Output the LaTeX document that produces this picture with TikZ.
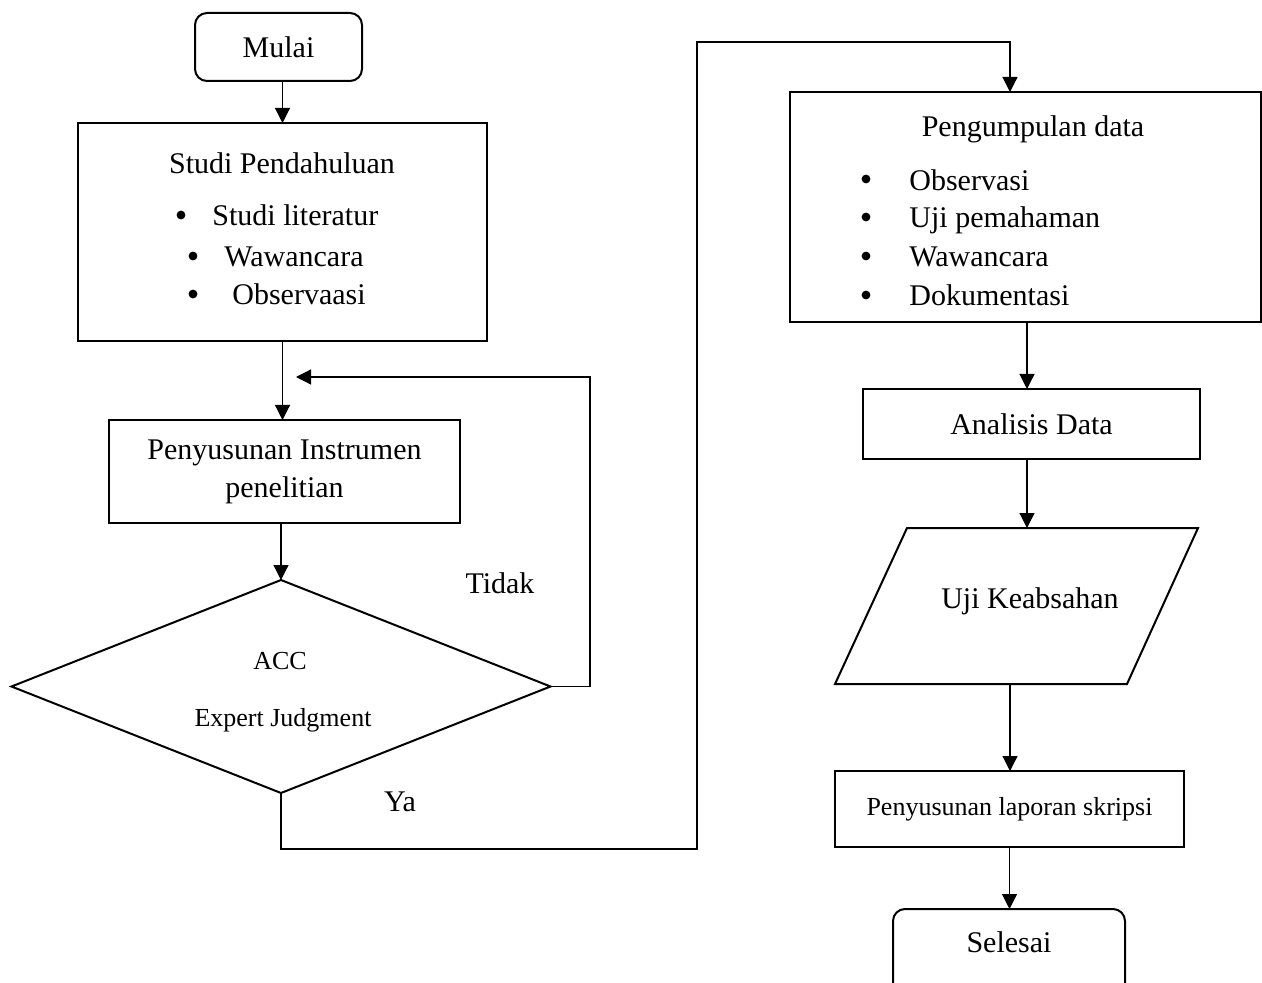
\documentclass[tikz,border=0pt]{standalone}
\usepackage{fontspec}
\setmainfont{Liberation Serif}
\usetikzlibrary{arrows.meta,shapes.geometric}
\tikzset{
  box/.style={draw, line width=1pt, inner sep=0pt, outer sep=0pt, font=\fontsize{15}{19}\selectfont, align=center},
  rbox/.style={box, rounded corners=6pt},
  conn/.style={line width=0.6pt},
  arr/.style={conn, -{Triangle[length=7.5pt,width=7.5pt]}},
  txt/.style={inner sep=0pt, font=\fontsize{15}{19}\selectfont, text height=0.68em, text depth=0.22em, yshift=-3pt},
  stxt/.style={inner sep=0pt, font=\fontsize{13}{16}\selectfont, text height=0.68em, text depth=0.22em, yshift=-2.5pt},
  bul/.style={circle, fill, inner sep=0pt, minimum size=4.4pt},
}
\begin{document}
\begin{tikzpicture}[x=0.5pt, y=-0.5pt]
\useasboundingbox (0,0) rectangle (1262,983);
\clip (0,0) rectangle (1262,983);
\fill[white] (0,0) rectangle (1262,983);

% left column
\node[rbox, minimum width=83.5pt, minimum height=34pt] (mulai) at (278.5,47) {Mulai};

\node[box, minimum width=204.5pt, minimum height=109pt] (studi) at (282.5,232) {};
\node[txt] (studiT) at (282,163) {Studi Pendahuluan};
\node[bul] (sb1) at (181,215) {};
\node[txt, anchor=west] (s1) at (212,215) {Studi literatur};
\node[bul] (sb2) at (193,256) {};
\node[txt, anchor=west] (s2) at (224,256) {Wawancara};
\node[bul] (sb3) at (193,294) {};
\node[txt, anchor=west] (s3) at (232,294) {Observaasi};

\node[box, minimum width=175.5pt, minimum height=51.5pt] (instr) at (284.5,471.5) {Penyusunan Instrumen\\penelitian};

\node[diamond, draw, line width=1pt, inner sep=0pt, outer sep=0pt, minimum width=269.5pt, minimum height=106.5pt] (acc) at (281,686.5) {};
\node[stxt] (accT) at (280,660) {ACC};
\node[stxt] (accE) at (283,717) {Expert Judgment};

\node[txt] (tidak) at (500,583) {Tidak};
\node[txt] (ya) at (400,801) {Ya};

% right column
\node[box, minimum width=235.5pt, minimum height=115pt] (peng) at (1025.5,207) {};
\node[txt] (pengT) at (1033,126) {Pengumpulan data};
\node[bul] (pb1) at (866,179) {};
\node[txt, anchor=west] (p1) at (909,180) {Observasi};
\node[bul] (pb2) at (866,217) {};
\node[txt, anchor=west] (p2) at (909,217) {Uji pemahaman};
\node[bul] (pb3) at (866,256) {};
\node[txt, anchor=west] (p3) at (909,256) {Wawancara};
\node[bul] (pb4) at (866,295) {};
\node[txt, anchor=west] (p4) at (909,295) {Dokumentasi};

\node[box, minimum width=168.5pt, minimum height=35pt] (anal) at (1031.5,424) {Analisis Data};

\draw[line width=1pt, line join=miter] (907,528) -- (1198,528) -- (1127,684) -- (835,684) -- cycle;
\coordinate (ujiTop) at (1027,528);
\coordinate (ujiBot) at (1010,684);
\node[txt] (uji) at (1030,598) {Uji Keabsahan};

\node[box, minimum width=174.5pt, minimum height=38pt, font=\fontsize{13}{16}\selectfont] (lap) at (1009.5,809) {Penyusunan laporan skripsi};

\node[rbox, minimum width=116pt, minimum height=51pt] (sel) at (1009,960) {};
\node[txt] (selT) at (1009,942) {Selesai};

% connectors
\draw[arr] (mulai.south -| studi.north) -- (studi.north);
\draw[arr] (studi.south) -- (studi.south |- instr.north);
\draw[arr] (acc.north |- instr.south) -- (acc.north);
\coordinate (fbc) at (590,377);
\coordinate (fbend) at (296,377);
\draw[arr] (acc.east) -| (fbc) -- (fbend);
\coordinate (ya1) at (697,849);
\coordinate (ya2) at (1010,42);
\draw[arr] (acc.south) |- (ya1) |- (ya2) -- (ya2 |- peng.north);
\draw[arr] (ujiTop |- peng.south) -- (ujiTop |- anal.north);
\draw[arr] (ujiTop |- anal.south) -- (ujiTop);
\draw[arr] (ujiBot) -- (ujiBot |- lap.north);
\draw[arr] (lap.south) -- (lap.south |- sel.north);
\end{tikzpicture}
\end{document}
